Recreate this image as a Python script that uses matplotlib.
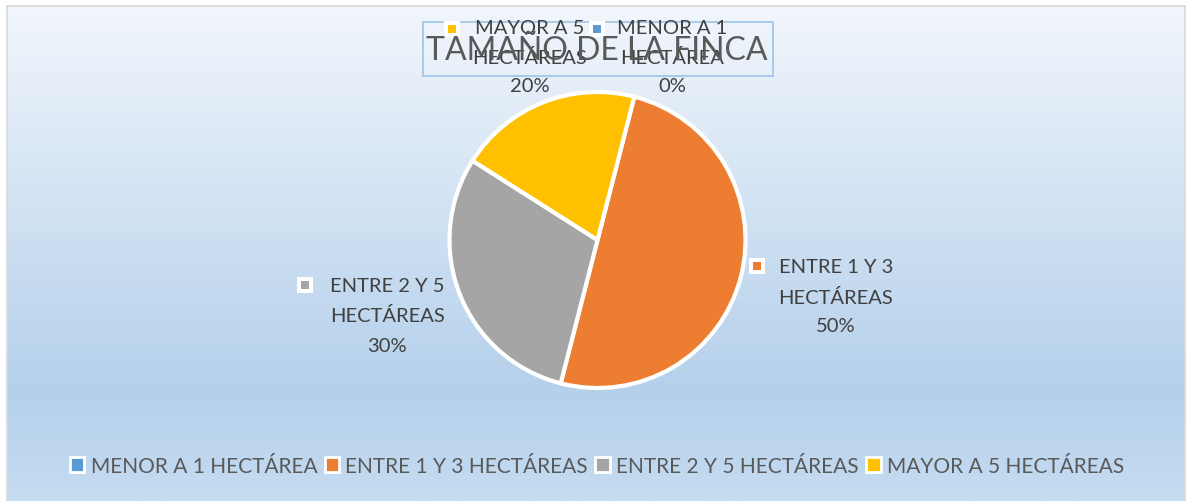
import numpy as np
import matplotlib.pyplot as plt
from matplotlib.patches import Rectangle, Patch

W, H = 1188, 502

categories = ["MENOR A 1 HECTÁREA", "ENTRE 1 Y 3 HECTÁREAS",
              "ENTRE 2 Y 5 HECTÁREAS", "MAYOR A 5 HECTÁREAS"]
label_names = ["MENOR A 1\nHECTÁREA", "ENTRE 1 Y 3\nHECTÁREAS",
               "ENTRE 2 Y 5\nHECTÁREAS", "MAYOR A 5\nHECTÁREAS"]
values = [0, 50, 30, 20]
colors = ["#5b9bd5", "#ed7d31", "#a5a5a5", "#ffc000"]
title = "TAMAÑO DE LA FINCA"

plt.rcParams['font.family'] = ['Lato', 'DejaVu Sans']
txt = "#404040"


def fx(x):
    return x / W


def fy(y):
    return 1 - y / H


fig = plt.figure(figsize=(W / 100, H / 100), dpi=100)
fig.patch.set_facecolor("white")

# gradient background of chart area
bg = fig.add_axes([fx(7), 0, fx(1185) - fx(7), fy(7)])
t = np.linspace(0, 1, 256)
top = np.array([0xf2, 0xf6, 0xfc]) / 255
mid = np.array([0xb4, 0xd0, 0xeb]) / 255
bot = np.array([0xc6, 0xdc, 0xf1]) / 255
stop = 0.78
grad = np.where(t[:, None] < stop,
                top + (mid - top) * (t[:, None] / stop),
                mid + (bot - mid) * ((t[:, None] - stop) / (1 - stop)))
bg.imshow(grad[:, None, :], aspect="auto", extent=(0, 1, 0, 1))
bg.set_xticks([])
bg.set_yticks([])
for s in bg.spines.values():
    s.set_color("#d9d9d9")
    s.set_linewidth(1.2)
bg.spines["bottom"].set_visible(False)

# pie
cx, cy, r = 597.5, 241, 148
ax = fig.add_axes([fx(cx - r), fy(cy + r), 2 * r / W, 2 * r / H])
ax.pie(values, colors=colors, startangle=75.6, counterclock=False,
       wedgeprops=dict(edgecolor="white", linewidth=3))
ax.set_xlim(-1.0, 1.0)
ax.set_ylim(-1.0, 1.0)
ax.set_aspect("auto")
ax.axis("off")

# title box
fig.patches.append(Rectangle((fx(423), fy(77)), fx(773) - fx(423), fy(23) - fy(77),
                             transform=fig.transFigure, facecolor="none",
                             edgecolor="#9dc3e6", linewidth=1.2, zorder=5))

# data labels (key square, name, percent)
label_pos = [(672, 28), (836, 268), (387, 287), (530, 28)]
key_pos = [(597, 30), (757, 267), (305, 286), (452, 30)]
line_h = 29.5
for i in range(len(values)):
    x, y = label_pos[i]
    lines = label_names[i].split("\n") + [f"{values[i]}%"]
    for k, ln in enumerate(lines):
        fig.text(fx(x), fy(y + k * line_h), ln, ha="center", va="center",
                 fontsize=14.5, color=txt, zorder=6)
    kx, ky = key_pos[i]
    fig.patches.append(Rectangle((fx(kx - 8), fy(ky + 8)), 16 / W, 16 / H,
                                 transform=fig.transFigure, facecolor="white",
                                 edgecolor="none", zorder=6))
    fig.patches.append(Rectangle((fx(kx - 4), fy(ky + 4)), 8 / W, 8 / H,
                                 transform=fig.transFigure, facecolor=colors[i],
                                 edgecolor="none", zorder=7))

fig.text(fx(597), fy(51), title, ha="center", va="center",
         fontsize=23, color="#595959", zorder=8)

# legend
handles = [Patch(facecolor=c, edgecolor="white", linewidth=2) for c in colors]
fig.legend(handles, categories, loc="center", bbox_to_anchor=(fx(597), fy(467)),
           ncol=4, frameon=False, fontsize=15, labelcolor="#595959",
           handlelength=0.7, handleheight=0.7, handletextpad=0.3,
           columnspacing=0.35)

fig.savefig("out.png", dpi=100)
